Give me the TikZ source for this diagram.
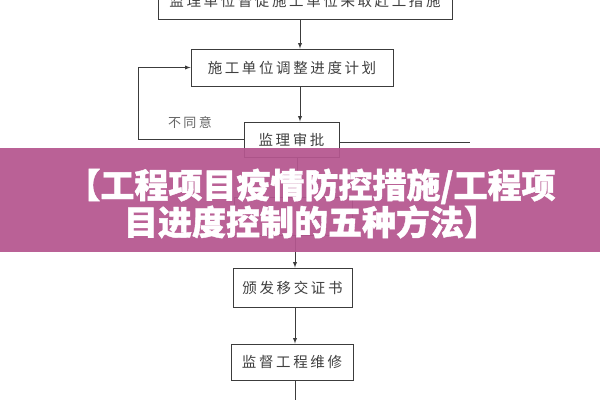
\documentclass[tikz,border=0pt]{standalone}
\usepackage{fontspec}
\usetikzlibrary{arrows}
\usetikzlibrary{positioning}

\newfontfamily\boxfont{Noto Sans CJK SC}[LetterSpace=18]
\newfontfamily\bannerfont{Noto Sans CJK SC}[BoldFeatures={FakeBold=1.2}]
\definecolor{bannerpink}{HTML}{B5568F}
\definecolor{linegray}{HTML}{3C3C3C}

\begin{document}
\begin{tikzpicture}[x=1pt,y=-1pt,>=latex,line width=0.9pt]
          \tikzstyle{stepbox} = [draw=linegray, fill=white, minimum height=36pt, inner sep=0pt, text=black!75, font=\boxfont\fontsize{14.5}{16}\selectfont]
          \tikzstyle{legend} = [text=black!60, font=\boxfont\fontsize{13}{15}\selectfont]
          \tikzstyle{flow} = [draw=linegray, ->]

          \useasboundingbox[fill=white] (0,0) rectangle (600,400);

          % Nodes
          \foreach \name / \x / \y / \w / \h / \txt in {urge/305/1/294/36/监理单位督促施工单位采取赶工措施,
                                                     adjust/292/67.5/202/37/施工单位调整进度计划,
                                                     check/291.5/139.5/95/35/监理审批,
                                                     hidden/293/216/118/38/{},
                                                     handover/292.5/287.5/119/39/颁发移交证书,
                                                     repair/292/362/122/36/监督工程维修}
            \node[stepbox, minimum width=\w pt, minimum height=\h pt] (\name) at (\x,\y) {\txt};

          \coordinate (agree) at (470,142);
          \coordinate (down) at (295,400);
          \node[legend] (refuse) at (190,123) {不同意};

          % Edges
          \draw[flow] (urge.south -| 300,0) -- (adjust.north -| 300,0);
          \draw[flow] (adjust.south -| 300,0) -- (check.north -| 300,0);
          \draw[flow] (check.west) -- (138,0 |- check.west) |- (adjust.west);
          \draw[draw=linegray] (agree -| check.east) -- (agree);
          \draw[flow] (check.south -| 297,0) -- (hidden.north -| 297,0);
          \draw[flow] (hidden.south -| 295,0) -- (handover.north -| 295,0);
          \draw[flow] (handover.south -| 295,0) -- (repair.north -| 295,0);
          \draw[draw=linegray] (repair.south -| down) -- (down);

          % Banner
          \fill[bannerpink, opacity=0.93] (0,148) rectangle (600,252);
          \node[text=white, align=center, font=\bannerfont\bfseries\fontsize{34}{37}\selectfont] (title) at (311,203.5)
            {【工程项目疫情防控措施/工程项\\目进度控制的五种方法】};

        \end{tikzpicture}
\end{document}
